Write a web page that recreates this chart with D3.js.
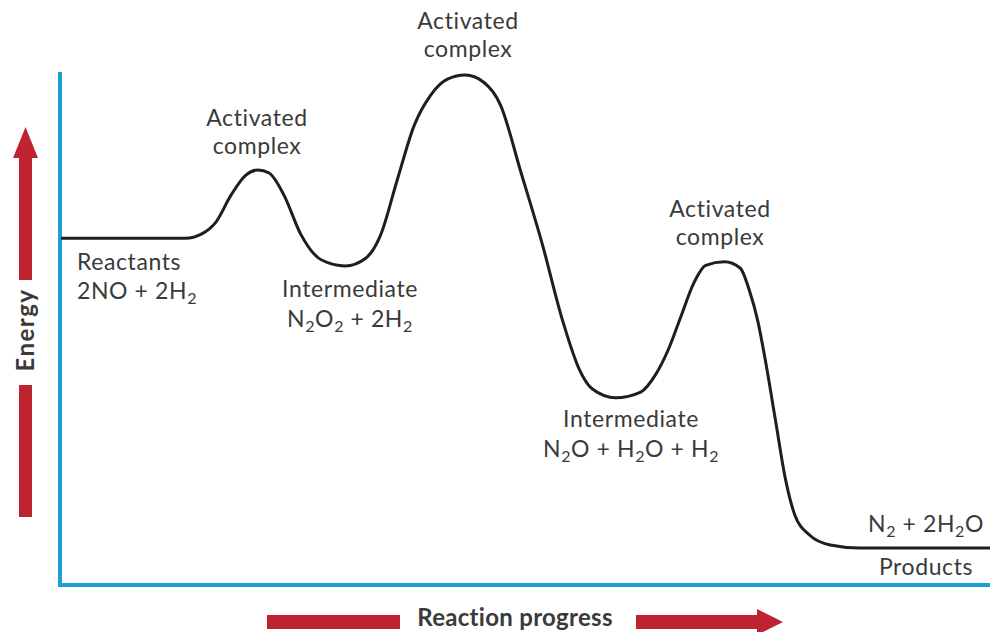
<!DOCTYPE html>
<html>
<head>
<meta charset="utf-8">
<script src="https://cdn.jsdelivr.net/npm/d3@7"></script>
<style>
  body { margin: 0; background: #fff; }
  svg { display: block; font-family: Lato, "Open Sans", sans-serif; }
</style>
</head>
<body>
<div id="chart"></div>
<script>
const WIDTH = 990; // page width
const HEIGHT = 632; // page height

// energy profile (progress 0-100, energy 0-100)
const progress = [0, 13.4, 15.1, 16.7, 18.3, 19.9, 21.2, 22.4, 24.0, 25.8, 28.0, 30.6, 32.8, 34.4, 36.2, 38.0,
  39.8, 41.6, 43.5, 45.5, 47.3, 49.5, 51.8, 54.0, 55.8, 57.2, 59.7, 62.4, 64.0, 65.4, 66.7, 68.1, 69.4,
  71.4, 73.1, 74.1, 75.0, 75.8, 76.9, 78.0, 79.0, 80.6, 82.8, 86.0, 100];
const energy = [67.6, 67.6, 68.4, 70.8, 76.0, 79.9, 80.9, 80.3, 76.0, 68.4, 63.4, 62.2, 63.7, 68.2, 79.0, 89.5,
  95.5, 98.6, 99.4, 98.0, 93.6, 80.5, 66.5, 51.5, 42.0, 38.2, 36.5, 37.6, 41.0, 46.0, 52.2, 58.8, 62.3,
  63.0, 61.8, 57.4, 51.5, 44.0, 32.2, 20.5, 13.6, 9.7, 7.8, 7.2, 7.2];

// labels ("_2" = subscript)
const peakLabels = ["Activated", "complex"];
const reactantLabels = ["Reactants", "2NO + 2H_2"];
const intermediate1Labels = ["Intermediate", "N_2O_2 + 2H_2"];
const intermediate2Labels = ["Intermediate", "N_2O + H_2O + H_2"];
const productLabels = ["N_2 + 2H_2O", "Products"];
const xTitle = "Reaction progress";
const yTitle = "Energy";

const x = d3.scaleLinear().domain([0, 100]).range([61, 990]);
const y = d3.scaleLinear().domain([0, 100]).range([585, 72]);

const RED = "#bf2330";
const BLUE = "#1b9fd9";
const TEXT = "#3a3a3a";
const FONT = 23;

const svg = d3.select("#chart").append("svg")
  .attr("width", WIDTH)
  .attr("height", HEIGHT);

// blue axes
svg.append("path")
  .attr("d", `M${x(0) - 1},${y(100)} V${y(0)} H${WIDTH}`)
  .attr("fill", "none")
  .attr("stroke", BLUE)
  .attr("stroke-width", 4);

// energy curve
const line = d3.line()
  .x((d, i) => x(progress[i]))
  .y((d, i) => y(energy[i]))
  .curve(d3.curveMonotoneX);

svg.append("path")
  .datum(progress)
  .attr("d", line)
  .attr("fill", "none")
  .attr("stroke", "#1e1e1e")
  .attr("stroke-width", 3);

// text with "_n" subscripts
function addText(str, px, py, anchor) {
  const t = svg.append("text")
    .attr("x", px)
    .attr("y", py)
    .attr("text-anchor", anchor)
    .attr("fill", TEXT)
    .style("font-size", FONT + "px")
    .style("letter-spacing", "0.6px");
  const parts = str.split(/(_\d)/);
  let sub = false;
  parts.forEach(p => {
    if (!p) return;
    if (p[0] === "_") {
      t.append("tspan").attr("dy", 5).style("font-size", "16px").text(p.slice(1));
      sub = true;
    } else {
      t.append("tspan").attr("dy", sub ? -5 : 0).text(p);
      sub = false;
    }
  });
  return t;
}

function addBlock(lines, px, py, anchor, gap) {
  lines.forEach((l, i) => addText(l, px, py + i * gap, anchor));
}

// peak labels
addBlock(peakLabels, 257, 126, "middle", 28);
addBlock(peakLabels, 468, 29, "middle", 28);
addBlock(peakLabels, 720, 217, "middle", 28);

addBlock(reactantLabels, 77, 270, "start", 29);
addBlock(intermediate1Labels, 350, 297, "middle", 30);
addBlock(intermediate2Labels, 631, 427, "middle", 30);
addText(productLabels[0], 926, 532, "middle");
addText(productLabels[1], 926, 575, "middle");

// energy arrow (vertical, left)
const ax = 25.5;
svg.append("rect").attr("x", ax - 6.5).attr("y", 155).attr("width", 13).attr("height", 125).attr("fill", RED);
svg.append("path")
  .attr("d", `M${ax},127 L${ax + 12.5},158 L${ax - 12.5},158 Z`)
  .attr("fill", RED);
svg.append("rect").attr("x", ax - 6.5).attr("y", 385).attr("width", 13).attr("height", 132).attr("fill", RED);
svg.append("text")
  .attr("transform", `translate(${ax + 8},330) rotate(-90)`)
  .attr("text-anchor", "middle")
  .attr("fill", TEXT)
  .style("font-size", "24px")
  .style("font-weight", "bold")
  .style("letter-spacing", "1.5px")
  .text(yTitle);

// reaction progress arrow (bottom)
svg.append("rect").attr("x", 267).attr("y", 615).attr("width", 133).attr("height", 14).attr("fill", RED);
svg.append("rect").attr("x", 636).attr("y", 615).attr("width", 124).attr("height", 14).attr("fill", RED);
svg.append("path")
  .attr("d", "M757,609 L783,622 L757,635 Z")
  .attr("fill", RED);
svg.append("text")
  .attr("x", 515)
  .attr("y", 626)
  .attr("text-anchor", "middle")
  .attr("fill", TEXT)
  .style("font-size", "24px")
  .style("font-weight", "bold")
  .style("letter-spacing", "0.3px")
  .text(xTitle);
</script>
</body>
</html>
